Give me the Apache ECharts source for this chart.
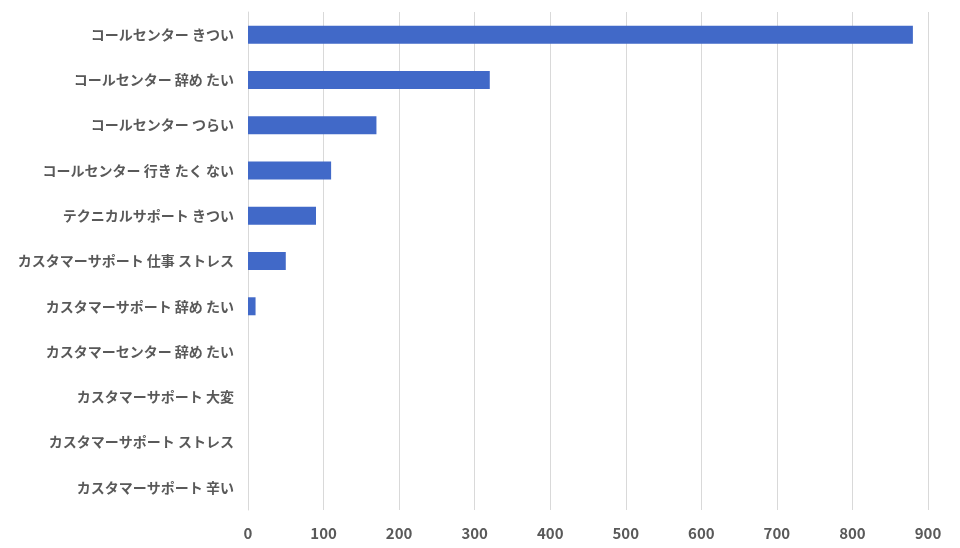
<!DOCTYPE html>
<html>
<head>
<meta charset="utf-8">
<script src="https://cdn.jsdelivr.net/npm/echarts@6/dist/echarts.min.js"></script>
<style>html,body{margin:0;padding:0;background:#fff}#chart{width:960px;height:548px}</style>
</head>
<body>
<div id="chart"></div>
<script>
// カテゴリと値（上から順）
var categories = [
    'コールセンター きつい',
    'コールセンター 辞め たい',
    'コールセンター つらい',
    'コールセンター 行き たく ない',
    'テクニカルサポート きつい',
    'カスタマーサポート 仕事 ストレス',
    'カスタマーサポート 辞め たい',
    'カスタマーセンター 辞め たい',
    'カスタマーサポート 大変',
    'カスタマーサポート ストレス',
    'カスタマーサポート 辛い'
];
var values = [880, 320, 170, 110, 90, 50, 10, 0, 0, 0, 0];

var font = '"Noto Sans CJK JP", "Noto Sans", sans-serif';
var chart = echarts.init(document.getElementById('chart'));
chart.setOption({
    animation: false,
    grid: {left: 248, right: 32, top: 12, bottom: 38},
    xAxis: {
        type: 'value', min: 0, max: 900, interval: 100,
        axisLine: {show: false}, axisTick: {show: false},
        splitLine: {lineStyle: {color: '#d9d9d9'}},
        axisLabel: {color: '#595959', fontSize: 15, fontWeight: 'bold', fontFamily: font, margin: 16}
    },
    yAxis: {
        type: 'category', data: categories, inverse: true,
        axisLine: {lineStyle: {color: '#d9d9d9'}}, axisTick: {show: false},
        axisLabel: {color: '#595959', fontSize: 14, fontWeight: 'bold', fontFamily: font, margin: 14}
    },
    series: [{
        type: 'bar', data: values, barWidth: 18,
        itemStyle: {color: '#4169c8'}
    }]
});
</script>
</body>
</html>
